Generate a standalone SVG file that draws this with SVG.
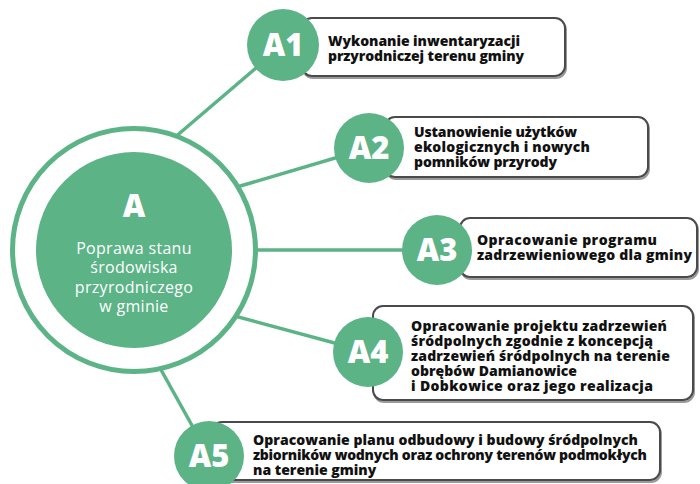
<svg xmlns="http://www.w3.org/2000/svg" width="700" height="484" viewBox="0 0 700 484">
  <style>
    .conn { stroke: #5bb386; stroke-width: 3.5; fill: none; }
    .ring { fill: #ffffff; stroke: #5bb386; stroke-width: 5; }
    .core { fill: #5bb386; }
    .bubble { fill: #5bb386; }
    .box { fill: #ffffff; stroke: #4a4a4a; stroke-width: 2; }
    .shadow { fill: none; stroke: #9a9a9a; stroke-width: 2; }
    .lbl { font-family: "Open Sans", "Liberation Sans", sans-serif; font-weight: 800; font-size: 31px; fill: #ffffff; text-anchor: middle; }
    .txt { font-family: "Open Sans", "Liberation Sans", sans-serif; font-weight: 800; font-size: 14px; fill: #111111; }
    .ctitle { font-family: "Open Sans", "Liberation Sans", sans-serif; font-weight: 800; font-size: 31px; fill: #ffffff; text-anchor: middle; }
    .ctext { font-family: "Open Sans", "Liberation Sans", sans-serif; font-weight: 400; font-size: 16px; letter-spacing: 0.3px; fill: #ffffff; text-anchor: middle; }
  </style>
  <rect width="700" height="484" fill="#ffffff"/>

  <g id="connectors">
    <line class="conn" x1="160" y1="150" x2="283" y2="45"/>
    <line class="conn" x1="220" y1="192" x2="369" y2="148"/>
    <line class="conn" x1="230" y1="250" x2="437" y2="250"/>
    <line class="conn" x1="220" y1="312" x2="368" y2="352"/>
    <line class="conn" x1="150" y1="350" x2="209" y2="456"/>
  </g>

  <g id="A">
    <circle class="ring" cx="134" cy="250" r="121.5"/>
    <circle class="core" cx="134" cy="250" r="98"/>
    <text class="ctitle" x="134" y="217">A</text>
    <text class="ctext" x="134" y="254">Poprawa stanu</text>
    <text class="ctext" x="134" y="273">środowiska</text>
    <text class="ctext" x="134" y="293">przyrodniczego</text>
    <text class="ctext" x="134" y="312">w gminie</text>
  </g>

  <g id="A1">
    <rect class="shadow" x="303" y="20" width="263" height="58" rx="10"/>
    <rect class="box" x="302" y="18" width="263" height="58" rx="10"/>
    <circle class="bubble" cx="283" cy="45" r="36"/>
    <text class="lbl" x="283" y="56">A1</text>
    <text class="txt" x="328" y="46" textLength="192" lengthAdjust="spacing">Wykonanie inwentaryzacji</text>
    <text class="txt" x="328" y="61" textLength="196" lengthAdjust="spacing">przyrodniczej terenu gminy</text>
  </g>

  <g id="A2">
    <rect class="shadow" x="386" y="119" width="263" height="60" rx="10"/>
    <rect class="box" x="385" y="117" width="263" height="60" rx="10"/>
    <circle class="bubble" cx="369" cy="148" r="35"/>
    <text class="lbl" x="369" y="159">A2</text>
    <text class="txt" x="414" y="137" textLength="163" lengthAdjust="spacing">Ustanowienie użytków</text>
    <text class="txt" x="414" y="152" textLength="176" lengthAdjust="spacing">ekologicznych i nowych</text>
    <text class="txt" x="414" y="167" textLength="143" lengthAdjust="spacing">pomników przyrody</text>
  </g>

  <g id="A3">
    <rect class="shadow" x="461" y="220" width="237" height="59" rx="10"/>
    <rect class="box" x="460" y="218" width="237" height="59" rx="10"/>
    <circle class="bubble" cx="437" cy="250" r="35"/>
    <text class="lbl" x="437" y="261">A3</text>
    <text class="txt" x="477" y="245" textLength="180" lengthAdjust="spacing">Opracowanie programu</text>
    <text class="txt" x="477" y="260" textLength="215" lengthAdjust="spacing">zadrzewieniowego dla gminy</text>
  </g>

  <g id="A4">
    <rect class="shadow" x="374" y="308" width="320" height="94" rx="10"/>
    <rect class="box" x="373" y="306" width="320" height="94" rx="10"/>
    <circle class="bubble" cx="368" cy="352" r="35"/>
    <text class="lbl" x="368" y="363">A4</text>
    <text class="txt" x="411" y="331" textLength="256" lengthAdjust="spacing">Opracowanie projektu zadrzewień</text>
    <text class="txt" x="411" y="346" textLength="242" lengthAdjust="spacing">śródpolnych zgodnie z koncepcją</text>
    <text class="txt" x="411" y="361" textLength="259" lengthAdjust="spacing">zadrzewień śródpolnych na terenie</text>
    <text class="txt" x="411" y="376" textLength="166" lengthAdjust="spacing">obrębów Damianowice</text>
    <text class="txt" x="411" y="391" textLength="242" lengthAdjust="spacing">i Dobkowice oraz jego realizacja</text>
  </g>

  <g id="A5">
    <rect class="shadow" x="213" y="424" width="448" height="58" rx="10"/>
    <rect class="box" x="212" y="422" width="448" height="58" rx="10"/>
    <circle class="bubble" cx="209" cy="456" r="35"/>
    <text class="lbl" x="209" y="467">A5</text>
    <text class="txt" x="253" y="445" textLength="385" lengthAdjust="spacing">Opracowanie planu odbudowy i budowy śródpolnych</text>
    <text class="txt" x="253" y="460" textLength="394" lengthAdjust="spacing">zbiorników wodnych oraz ochrony terenów podmokłych</text>
    <text class="txt" x="253" y="475">na terenie gminy</text>
  </g>
</svg>
